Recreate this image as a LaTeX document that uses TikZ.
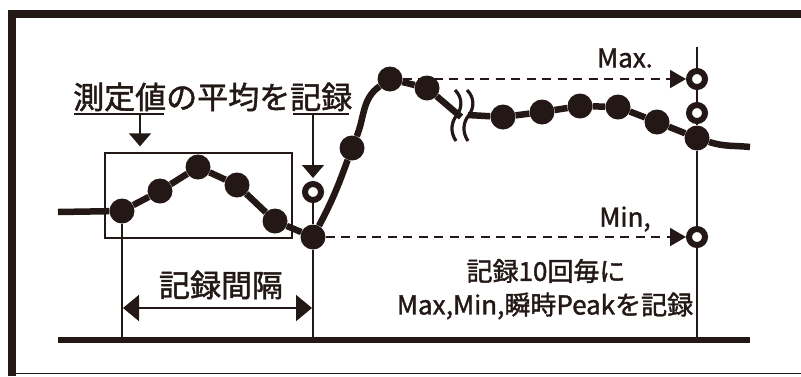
\documentclass[tikz,border=0pt]{standalone}
\usepackage{fontspec}
\setmainfont{Noto Sans CJK JP}[FakeBold=1.5]
\usetikzlibrary{arrows.meta}
\definecolor{ink}{HTML}{231815}

\begin{document}
\begin{tikzpicture}[x=1pt,y=-1pt,ink,
  dot/.style={circle,fill=ink,inner sep=0,minimum size=25},
  ring/.style={circle,draw=ink,fill=white,line width=6,inner sep=0,minimum size=16},
  curve/.style={line width=6.5,line join=round},
  hair/.style={line width=1.5},
  dash arrow/.style={line width=2,dash pattern=on 9pt off 6.5pt,-{Triangle[length=16,width=18]}},
  tip/.style={-{Triangle[length=13,width=22]}},
  lbl/.style={font=\fontsize{26}{26}\selectfont,inner sep=0},
  big/.style={font=\fontsize{31}{31}\selectfont,inner sep=0}]
\useasboundingbox (0,0) rectangle (801,376);
% frame
\draw[line width=8] (12,376)--(12,14)--(801,14);\draw[line width=1.5] (12,373.5)--(801,373.5);
\node[draw,line width=1.3,inner sep=0,minimum width=187,minimum height=85] (win) at (198.5,195.5) {};
% samples
\foreach \n/\x/\y in {1/122/211,2/160/191,3/198/167,4/237/185,5/275/221,6/313/237,7/352/148,8/390/79,
  9/427/88,10/503/117,11/542/112,12/580/106,13/618/107,14/657/122,15/697/138}
  \node[dot] (p\n) at (\x,\y) {};
\node[ring] (o1) at (313,192) {};\node[ring] (mx) at (697,79) {};
\node[ring] (o2) at (697,113) {};\node[ring] (mn) at (697,237) {};
\coordinate (s0) at (58,212);\coordinate (k1) at (461,117);\coordinate (k2) at (468,115);\coordinate (e0) at (750,147);
\coordinate (bl) at (58,340);\coordinate (br) at (750,340);\coordinate (t3) at (697,47);
\draw[curve] (s0)--(p1)--(p2)--(p3)--(p4)--(p5)--(p6) to[out=62,in=250] (p7) to[out=68,in=215] (p8)--(p9)--(k1);
\draw[curve] (k2)--(p10)--(p11)--(p12)--(p13)--(p14)--(p15) to[out=-18,in=174] (e0);
\foreach \dx in {0,12}
  \draw[line width=3.2] (455+\dx,90) .. controls (463+\dx,98) and (462+\dx,108) .. (457+\dx,115)
    .. controls (451+\dx,122) and (450+\dx,132) .. (456+\dx,141);
\draw[line width=6] (bl)--(br);
% verticals
\draw[hair] (p1)--(p1 |- bl);\draw[hair] (o1)--(p6) (p6)--(p6 |- bl);
\draw[hair] (t3)--(mx) (mx)--(o2) (o2)--(p15) (p15)--(mn) (mn)--(mn |- bl);
% labels
\node[big,anchor=west] (avg) at (73,97) {測定値の平均を記録};
\coordinate (a1) at (140,114);\coordinate (a2) at (313,114);
\draw[hair] (74,114)--(164,114);\draw[hair] (293,114)--(349,114);
\draw[hair,tip,shorten >=6pt] (a1)--(a1 |- win.north);\draw[hair,tip,shorten >=3pt] (a2)--(o1);
\draw[dash arrow] (p8)--(mx);\draw[dash arrow] (p6)--(mn);
\node[lbl,anchor=east] (maxl) at (653,58) {Max.};\node[lbl] (minl) at (625,219) {Min,};
\coordinate (iv1) at (123,308);\coordinate (iv2) at (312,308);
\draw[line width=2,{Triangle[length=16,width=26]}-{Triangle[length=16,width=26]}] (iv1)--(iv2);
\node[big] (intv) at (221,285) {記録間隔};
\node[lbl] (every) at (546,271) {記録10回毎に};
\node[lbl] (peak) at (545,306) {Max,Min,瞬時Peakを記録};
\end{tikzpicture}
\end{document}
